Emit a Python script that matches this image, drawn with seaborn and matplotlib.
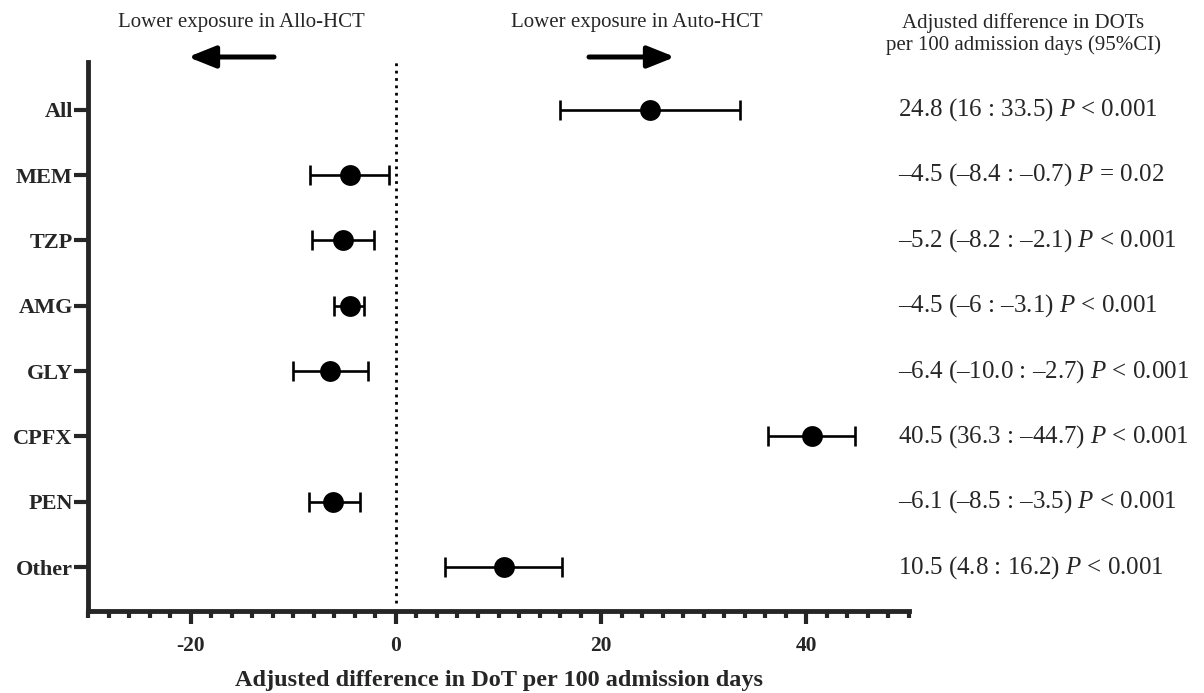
import numpy as np
import pandas as pd
import matplotlib
matplotlib.use("Agg")
import matplotlib.pyplot as plt
import seaborn as sns
from matplotlib.ticker import MultipleLocator
from matplotlib.patches import FancyArrowPatch

categories = ["All", "MEM", "TZP", "AMG", "GLY", "CPFX", "PEN", "Other"]
estimates = [24.8, -4.5, -5.2, -4.5, -6.4, 40.5, -6.1, 10.5]
ci_low = [16.0, -8.4, -8.2, -6.0, -10.0, 36.3, -8.5, 4.8]
ci_high = [33.5, -0.7, -2.1, -3.1, -2.7, 44.7, -3.5, 16.2]
annotations = [
    "24.8 (16 : 33.5) $P$ < 0.001",
    "–4.5 (–8.4 : –0.7) $P$ = 0.02",
    "–5.2 (–8.2 : –2.1) $P$ < 0.001",
    "–4.5 (–6 : –3.1) $P$ < 0.001",
    "–6.4 (–10.0 : –2.7) $P$ < 0.001",
    "40.5 (36.3 : –44.7) $P$ < 0.001",
    "–6.1 (–8.5 : –3.5) $P$ < 0.001",
    "10.5 (4.8 : 16.2) $P$ < 0.001",
]

sns.set_style("ticks")
plt.rcParams["font.family"] = ["Liberation Serif", "DejaVu Serif"]
plt.rcParams["mathtext.fontset"] = "custom"
plt.rcParams["mathtext.rm"] = "Liberation Serif"
plt.rcParams["mathtext.it"] = "Liberation Serif:italic"
plt.rcParams["axes.unicode_minus"] = False

df = pd.DataFrame({"cat": categories, "est": estimates,
                   "lo": ci_low, "hi": ci_high})
df["pos"] = np.arange(len(categories))

fig = plt.figure(figsize=(12.04, 6.93), dpi=100)
ax = fig.add_axes([88 / 1204, 1 - 611 / 693, (909 - 88) / 1204, (611 - 62) / 693])

ax.axvline(0, ls=":", lw=2, color="black", zorder=1, ymin=0.015)
ax.errorbar(df["est"], df["pos"],
            xerr=[df["est"] - df["lo"], df["hi"] - df["est"]],
            fmt="none", ecolor="black", elinewidth=1.9, capsize=7.5,
            capthick=1.9, zorder=2)
sns.scatterplot(data=df, x="est", y="pos", s=15 ** 2, color="black",
                edgecolor="black", linewidth=0, zorder=3, ax=ax, legend=False)

ax.set_xlim(-30, 50)
ax.set_ylim(7.67, -0.73)
ax.xaxis.set_major_locator(MultipleLocator(20))
ax.xaxis.set_minor_locator(MultipleLocator(2))
ax.set_yticks(df["pos"])
ax.set_yticklabels(categories, fontsize=16, fontweight="bold")
for lab in ax.get_xticklabels():
    lab.set_fontweight("bold")
ax.tick_params(axis="x", which="major", length=9, width=3, labelsize=15.5, pad=9)
ax.tick_params(axis="x", which="minor", length=5, width=3)
ax.tick_params(axis="y", which="major", length=10, width=3, pad=1)
ax.set_xlabel("Adjusted difference in DoT per 100 admission days",
              fontsize=17.5, fontweight="bold", labelpad=10)
ax.set_ylabel("")
for side in ["top", "right"]:
    ax.spines[side].set_visible(False)
for side in ["left", "bottom"]:
    ax.spines[side].set_linewidth(3.5)
ax.patch.set_alpha(0)

# right-hand annotations
for p, txt in zip(df["pos"], annotations):
    ax.annotate(txt, xy=(0, p), xycoords=("figure fraction", "data"),
                xytext=(898, 0), textcoords=("figure pixels", "offset points"),
                fontsize=18, ha="left", va="center")

fig.text(241 / 1204, 1 - 23 / 693, "Lower exposure in Allo-HCT",
         fontsize=15, ha="center", va="center")
fig.text(637 / 1204, 1 - 23 / 693, "Lower exposure in Auto-HCT",
         fontsize=15, ha="center", va="center")
fig.text(1023 / 1204, 1 - 34 / 693,
         "Adjusted difference in DOTs\nper 100 admission days (95%CI)",
         fontsize=15, ha="center", va="center", linespacing=1.1)

arrow_kw = dict(arrowstyle="-|>,head_length=0.75,head_width=0.3", lw=3.6,
                color="black", mutation_scale=22, shrinkA=0, shrinkB=0)
fig.add_artist(FancyArrowPatch(
    (274 / 1204, 1 - 57 / 693), (188 / 1204, 1 - 57 / 693),
    transform=fig.transFigure, **arrow_kw))
fig.add_artist(FancyArrowPatch(
    (589 / 1204, 1 - 57 / 693), (675 / 1204, 1 - 57 / 693),
    transform=fig.transFigure, **arrow_kw))

fig.savefig("out.png", dpi=100)
